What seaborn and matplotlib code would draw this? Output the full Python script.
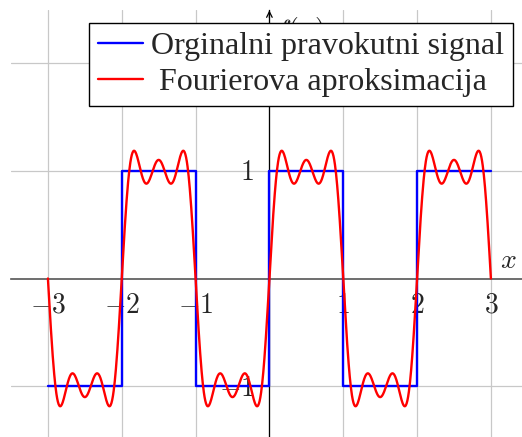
import numpy as np
import pandas as pd
import matplotlib.pyplot as plt
import seaborn as sns

# Ulazni podaci: pravokutni signal (prijelomne tocke i razine)
step_x = [-3, -2, -1, 0, 1, 2, 3]
step_y = [-1, 1, -1, 1, -1, 1, 1]

# Fourierovi koeficijenti (neparni harmonici, b_n = 4/(n*pi))
harmonics = [1, 3, 5]
coeffs = [4 / np.pi, 4 / (3 * np.pi), 4 / (5 * np.pi)]

x_ticks = [-3, -2, -1, 1, 2, 3]
y_ticks = [-1, 1]

labels = ['Orginalni pravokutni signal', ' Fourierova aproksimacija']

# Fourierova aproksimacija na gustoj mrezi
xs = np.linspace(-3, 3, 1200)
ys = sum(b * np.sin(n * np.pi * xs) for n, b in zip(harmonics, coeffs))
df_sq = pd.DataFrame({'x': step_x, 'y': step_y})
df_fs = pd.DataFrame({'x': xs, 'y': ys})

sns.set_style('white')
plt.rcParams['mathtext.fontset'] = 'cm'
plt.rcParams['font.family'] = ['Liberation Serif', 'DejaVu Serif']

W, H = 522, 437
fig = plt.figure(figsize=(W / 100, H / 100), dpi=100)
ux = 73.83
uy = 107.5
ax = fig.add_axes([11 / W, (H - 278.5 - 1.5 * uy) / H, 7 * ux / W, 4 * uy / H])
ax.set_xlim(-3.5, 3.5)
ax.set_ylim(-1.5, 2.5)

sns.lineplot(data=df_sq, x='x', y='y', ax=ax, color='#0000ff', lw=1.7,
             drawstyle='steps-post', sort=False, label=labels[0], zorder=3)
sns.lineplot(data=df_fs, x='x', y='y', ax=ax, color='#ff0000', lw=1.7,
             sort=False, label=labels[1], zorder=4)

# mreza
for gx in range(-3, 4):
    ax.axvline(gx, color='#c8c8c8', lw=0.9, zorder=0)
for gy in [-1, 1, 2]:
    ax.axhline(gy, color='#c8c8c8', lw=0.9, zorder=0)

# osi kroz ishodiste
for s in ['top', 'right']:
    ax.spines[s].set_visible(False)
ax.spines['left'].set_position(('data', 0))
ax.spines['bottom'].set_position(('data', 0))
ax.spines['left'].set_color('black')
ax.spines['bottom'].set_color('#555555')
ax.spines['left'].set_linewidth(0.9)
ax.spines['bottom'].set_linewidth(1.2)
ax.annotate('', xy=(0, 2.52), xytext=(0, 2.4),
            arrowprops=dict(arrowstyle='->', color='black', lw=0.9),
            annotation_clip=False)

ax.set_xticks(x_ticks)
ax.set_xticklabels([f'${t}$' for t in x_ticks], fontsize=20)
ax.set_yticks(y_ticks)
ax.set_yticklabels([f'${t}$' for t in y_ticks], fontsize=20)
ax.tick_params(length=0, pad=11)
ax.set_xlabel('')
ax.set_ylabel('')

ax.text(3.12, 0.04, '$x$', fontsize=20, ha='left', va='bottom')
ax.text(0.4, 2.3, '$f(x)$', fontsize=20, ha='center', va='center')

leg = ax.legend(loc='upper right', bbox_to_anchor=(513 / W, 1 - 23 / H),
                bbox_transform=fig.transFigure, fontsize=23, frameon=True,
                fancybox=False, edgecolor='black', framealpha=1,
                handlelength=1.4, borderpad=0.28, labelspacing=0.2,
                handletextpad=0.25, borderaxespad=0)
leg.get_frame().set_linewidth(1.0)
leg.set_zorder(10)

fig.savefig('out.png', dpi=100)
